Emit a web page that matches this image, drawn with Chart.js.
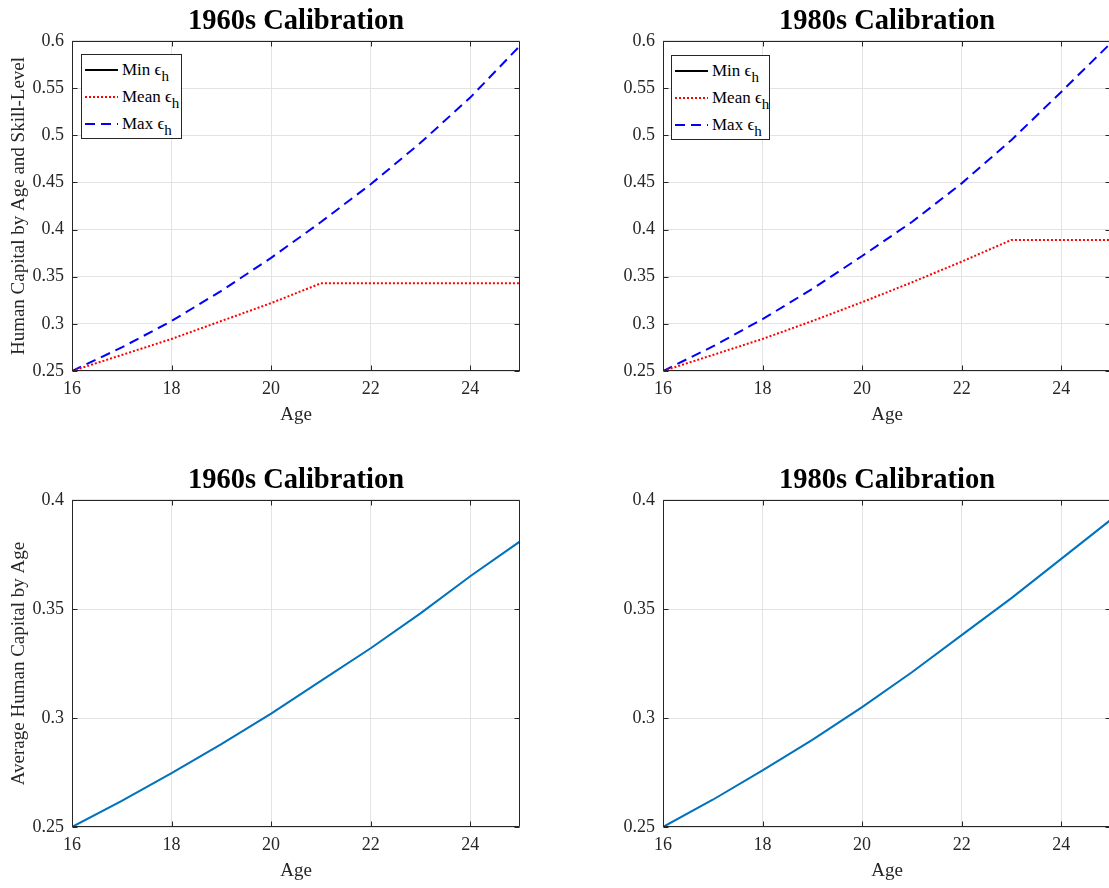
<!DOCTYPE html>
<html><head><meta charset="utf-8">
<script src="https://cdn.jsdelivr.net/npm/chart.js@4.4.1/dist/chart.umd.min.js"></script>
<style>
html,body{margin:0;padding:0;width:1109px;height:888px;overflow:hidden;background:#fff;}
.panel{position:absolute;}
.legend{position:absolute;background:#fff;border:1px solid #262626;font-family:"Liberation Serif","Times New Roman",serif;font-size:17px;color:#000;box-sizing:border-box;padding-top:1px;}
.legend .row{display:flex;align-items:center;height:27px;white-space:nowrap;}
.legend svg{margin-left:3px;margin-right:4px;flex:none;}
.legend sub{font-size:15px;vertical-align:-6px;line-height:0;}
</style></head><body>
<div class="panel" style="left:0;top:0"><canvas id="c1" width="560" height="440"></canvas>
  <div class="legend" id="lg1" style="left:81px;top:54px;width:101px;height:85px"></div></div>
<div class="panel" style="left:591px;top:0"><canvas id="c2" width="560" height="440"></canvas>
  <div class="legend" id="lg2" style="left:80px;top:55px;width:99px;height:85px"></div></div>
<div class="panel" style="left:0;top:459px"><canvas id="c3" width="560" height="429"></canvas></div>
<div class="panel" style="left:591px;top:459px"><canvas id="c4" width="560" height="429"></canvas></div>
<script>
// ---- data ----
const ages = [16, 17, 18, 19, 20, 21, 22, 23, 24, 25];
const xTicks = [16, 18, 20, 22, 24];
const xTickLabels = ['16', '18', '20', '22', '24'];
const yTicksTop = [0.25, 0.3, 0.35, 0.4, 0.45, 0.5, 0.55, 0.6];
const yTickLabelsTop = ['0.25', '0.3', '0.35', '0.4', '0.45', '0.5', '0.55', '0.6'];
const yTicksBottom = [0.25, 0.3, 0.35, 0.4];
const yTickLabelsBottom = ['0.25', '0.3', '0.35', '0.4'];
const seriesNames = ['Min', 'Mean', 'Max'];
const titles = ['1960s Calibration', '1980s Calibration'];
const yTitleTop = 'Human Capital by Age and Skill-Level';
const yTitleBottom = 'Average Human Capital by Age';
const xTitle = 'Age';

const min1960  = [0.25, 0.25, 0.25, 0.25, 0.25, 0.25, 0.25, 0.25, 0.25, 0.25];
const mean1960 = [0.25, 0.267, 0.284, 0.303, 0.322, 0.343, 0.343, 0.343, 0.343, 0.343];
const max1960  = [0.25, 0.275, 0.303, 0.335, 0.370, 0.408, 0.448, 0.492, 0.540, 0.595];
const min1980  = [0.25, 0.25, 0.25, 0.25, 0.25, 0.25, 0.25, 0.25, 0.25, 0.25];
const mean1980 = [0.25, 0.267, 0.284, 0.303, 0.323, 0.344, 0.366, 0.389, 0.389, 0.389];
const max1980  = [0.25, 0.276, 0.305, 0.337, 0.372, 0.408, 0.449, 0.495, 0.546, 0.598];
const avg1960  = [0.25, 0.262, 0.2747, 0.288, 0.302, 0.317, 0.332, 0.348, 0.365, 0.381];
const avg1980  = [0.25, 0.2625, 0.276, 0.290, 0.305, 0.321, 0.338, 0.355, 0.373, 0.391];

// ---- styling ----
const FONT = '"Liberation Serif","Times New Roman",serif';
const AXIS = '#262626';
const GRID = '#e3e3e3';

function pts(ys) { return ages.map((a, i) => ({x: a, y: ys[i]})); }

const framePlugin = {
  id: 'frame',
  afterDraw(chart) {
    const {ctx, chartArea: a, scales} = chart;
    ctx.save();
    ctx.strokeStyle = AXIS;
    ctx.lineWidth = 1;
    ctx.beginPath();
    const L = Math.round(a.left) + 0.5, R = Math.round(a.right) - 0.5;
    const T = Math.round(a.top) + 0.5, B = Math.round(a.bottom) - 0.5;
    ctx.moveTo(L, T); ctx.lineTo(R, T); ctx.lineTo(R, B); ctx.lineTo(L, B); ctx.closePath();
    const tl = 5;
    scales.x.ticks.forEach(t => {
      const px = Math.round(scales.x.getPixelForValue(t.value)) + 0.5;
      ctx.moveTo(px, B); ctx.lineTo(px, B - tl);
      ctx.moveTo(px, T); ctx.lineTo(px, T + tl);
    });
    scales.y.ticks.forEach(t => {
      const py = Math.round(scales.y.getPixelForValue(t.value)) + 0.5;
      ctx.moveTo(L, py); ctx.lineTo(L + tl, py);
      ctx.moveTo(R, py); ctx.lineTo(R - tl, py);
    });
    ctx.stroke();
    ctx.restore();
  }
};

function makeChart(id, datasets, yTicks, yLabels, yMin, yMax, title, yTitle, padBottom) {
  return new Chart(document.getElementById(id), {
    type: 'line',
    data: {datasets},
    options: {
      responsive: false,
      devicePixelRatio: 1,
      animation: false,
      events: [],
      layout: {padding: {left: 0, right: 40, top: 0, bottom: padBottom}},
      elements: {point: {radius: 0}, line: {tension: 0}},
      plugins: {
        legend: {display: false},
        tooltip: {enabled: false},
        title: {display: true, text: title, color: '#000', fullSize: false,
          font: {family: FONT, size: 28.5, weight: 'bold', lineHeight: 1.2},
          padding: {top: 5, bottom: 1.8}}
      },
      scales: {
        x: {
          type: 'linear', min: 16, max: 25,
          afterBuildTicks: s => { s.ticks = xTicks.map(v => ({value: v})); },
          afterFit: s => { s.height = 55; },
          ticks: {color: AXIS, padding: 7, maxRotation: 0, autoSkip: false,
            font: {family: FONT, size: 18}, callback: (v, i) => xTickLabels[i]},
          grid: {color: GRID, drawTicks: false},
          border: {display: false},
          title: {display: true, text: xTitle, color: AXIS, padding: {top: 0, bottom: 0},
            font: {family: FONT, size: 19}}
        },
        y: {
          type: 'linear', min: yMin, max: yMax,
          afterBuildTicks: s => { s.ticks = yTicks.map(v => ({value: v})); },
          afterFit: s => { s.width = 72; },
          ticks: {color: AXIS, padding: 8, autoSkip: false,
            font: {family: FONT, size: 18}, callback: (v, i) => yLabels[i]},
          grid: {color: GRID, drawTicks: false},
          border: {display: false},
          title: {display: !!yTitle, text: yTitle || '', color: AXIS, padding: {top: 8, bottom: 0},
            font: {family: FONT, size: 19}}
        }
      }
    },
    plugins: [framePlugin]
  });
}

function threeSeries(minA, meanA, maxA) {
  return [
    {label: seriesNames[0] + ' ϵh', data: pts(minA), borderColor: '#000000', borderWidth: 2, borderDash: [], fill: false},
    {label: seriesNames[1] + ' ϵh', data: pts(meanA), borderColor: '#ff0000', borderWidth: 2, borderDash: [2, 2], fill: false},
    {label: seriesNames[2] + ' ϵh', data: pts(maxA), borderColor: '#0000ff', borderWidth: 2, borderDash: [10, 6], fill: false}
  ];
}

function buildLegend(chart, elId) {
  const el = document.getElementById(elId);
  el.innerHTML = chart.data.datasets.map((d, i) => {
    const dash = (d.borderDash && d.borderDash.length) ? d.borderDash.join(' ') : 'none';
    return '<div class="row"><svg width="33" height="4"><line x1="0" y1="2" x2="33" y2="2" stroke="' + d.borderColor +
      '" stroke-width="2" stroke-dasharray="' + dash + '"/></svg><span>' + seriesNames[i] + ' ϵ<sub>h</sub></span></div>';
  }).join('');
}

const c1 = makeChart('c1', threeSeries(min1960, mean1960, max1960), yTicksTop, yTickLabelsTop, 0.25, 0.6, titles[0], yTitleTop, 14);
const c2 = makeChart('c2', threeSeries(min1980, mean1980, max1980), yTicksTop, yTickLabelsTop, 0.25, 0.6, titles[1], null, 14);
makeChart('c3', [{label: 'Average', data: pts(avg1960), borderColor: '#0072BD', borderWidth: 2, fill: false}],
  yTicksBottom, yTickLabelsBottom, 0.25, 0.4, titles[0], yTitleBottom, 6);
makeChart('c4', [{label: 'Average', data: pts(avg1980), borderColor: '#0072BD', borderWidth: 2, fill: false}],
  yTicksBottom, yTickLabelsBottom, 0.25, 0.4, titles[1], null, 6);
buildLegend(c1, 'lg1');
buildLegend(c2, 'lg2');
</script>
</body></html>
